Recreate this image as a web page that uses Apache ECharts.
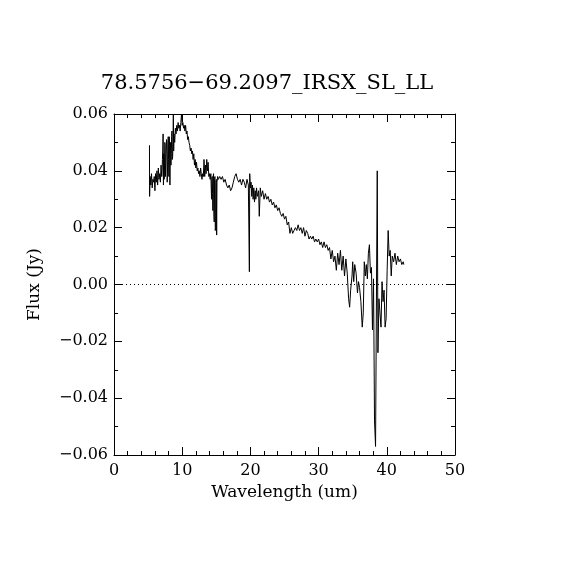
<!DOCTYPE html>
<html>
<head>
<meta charset="utf-8">
<script src="https://cdn.jsdelivr.net/npm/echarts@6/dist/echarts.min.js"></script>
<style>html,body{margin:0;padding:0;background:#fff}#c{width:570px;height:570px}</style>
</head>
<body>
<div id="c"></div>
<script>
const titleText = '78.5756\u221269.2097_IRSX_SL_LL';
const xName = 'Wavelength (um)';
const yName = 'Flux (Jy)';
// SL module
const wavelengthSL = [
5.20,5.22,5.30,5.40,5.50,5.60,5.70,5.80,5.90,6.00,6.10,6.20,6.30,6.40,6.50,6.60,6.70,6.80,6.90,7.00,
7.05,7.10,7.15,7.20,7.25,7.30,7.35,7.40,7.45,7.50,7.55,7.60,7.65,7.70,7.75,7.80,7.85,7.90,7.95,8.00,
8.05,8.10,8.15,8.20,8.25,8.30,8.35,8.40,8.45,8.50,8.55,8.60,8.65,8.70,8.75,8.80,
8.90,9.00,9.10,9.20,9.30,9.40,9.50,9.60,9.70,9.80,9.90,10.00,10.10,10.20,10.30,10.40,10.50,10.60,10.70,10.80,
10.90,11.00,11.10,11.20,11.30,11.40,11.50,11.60,11.70,11.80,11.90,12.00,12.10,12.20,12.30,12.40,12.50,12.60,12.70,12.80,
12.90,13.00,13.10,13.20,13.30,13.40,13.50,13.60,13.70,13.80,13.90,14.00,14.10,14.20
];
const fluxSL = [
0.049,0.031,0.038,0.035,0.039,0.034,0.037,0.036,0.038,0.033,0.039,0.036,0.040,0.035,0.041,0.037,0.039,0.036,0.042,0.038,
0.040,0.044,0.047,0.053,0.035,0.046,0.037,0.040,0.050,0.049,0.038,0.043,0.047,0.051,0.050,0.036,0.041,0.048,0.052,0.044,
0.038,0.052,0.049,0.035,0.047,0.050,0.042,0.046,0.052,0.054,0.044,0.045,0.050,0.060,0.047,0.053,
0.050,0.055,0.053,0.056,0.054,0.057,0.055,0.056,0.054,0.057,0.060,0.056,0.057,0.055,0.056,0.054,0.056,0.053,0.054,0.051,
0.052,0.050,0.049,0.047,0.048,0.046,0.047,0.044,0.046,0.042,0.044,0.041,0.043,0.040,0.041,0.039,0.040,0.038,0.041,0.039,
0.037,0.039,0.038,0.044,0.038,0.042,0.039,0.044,0.040,0.043,0.038,0.039,0.037,0.039
];
// LL module
const wavelengthLL = [
14.30,14.35,14.40,14.45,14.50,14.55,14.60,14.65,14.70,14.75,14.80,14.85,14.90,14.95,15.00,15.05,15.10,
15.20,15.30,15.50,15.70,15.90,16.10,16.30,16.50,16.70,16.90,17.10,17.30,17.50,17.70,17.90,18.10,
18.30,18.50,18.70,18.90,19.10,19.30,19.50,19.70,19.85,19.90,20.00,20.10,20.20,20.30,20.40,20.50,20.60,20.70,20.80,20.90,
21.00,21.20,21.30,21.45,21.60,21.80,22.00,22.20,22.40,22.60,22.80,23.00,23.20,23.40,23.60,23.80,24.00,24.20,24.40,24.60,
24.80,25.00,25.20,25.40,25.60,25.80,26.00,26.20,26.40,26.60,26.80,27.00,27.20,27.40,27.60,27.80,28.00,28.20,28.40,28.60,
28.80,29.00,29.20,29.40,29.60,29.80,30.00,30.20,30.40,30.60,30.80,31.00,31.20,31.40,31.60,31.80,32.00,32.20,32.40,32.60,
32.80,33.00,33.20,33.40,33.60,33.80,34.00,34.20,34.40,34.55,34.70,34.90,35.00,35.15,35.30,35.50,35.70,35.85,36.00,36.20,
36.40,36.55,36.70,36.85,37.00,37.15,37.30,37.45,37.60,37.75,37.90,38.05,38.20,38.35,38.50,38.60,38.70,38.85,39.00,39.15,
39.30,39.45,39.60,39.75,39.90,40.05,40.20,40.35,40.50,40.65,40.80,41.00,41.20,41.40,41.60,41.80,42.00,42.20,42.40,42.50
];
const fluxLL = [
0.030,0.037,0.038,0.032,0.026,0.038,0.039,0.024,0.022,0.037,0.038,0.019,0.020,0.036,0.037,0.0174,0.036,
0.038,0.037,0.038,0.037,0.038,0.036,0.037,0.035,0.034,0.035,0.033,0.034,0.036,0.038,0.039,0.037,
0.036,0.037,0.035,0.037,0.036,0.034,0.037,0.035,0.0045,0.039,0.034,0.036,0.031,0.035,0.030,0.034,0.029,0.033,0.030,0.034,
0.031,0.033,0.024,0.034,0.031,0.033,0.030,0.032,0.030,0.031,0.029,0.030,0.028,0.029,0.027,0.028,0.026,0.027,0.025,0.024,
0.025,0.023,0.024,0.021,0.022,0.018,0.020,0.018,0.019,0.020,0.019,0.021,0.019,0.020,0.018,0.020,0.017,0.019,0.018,0.016,
0.017,0.016,0.017,0.015,0.016,0.015,0.016,0.014,0.015,0.013,0.015,0.013,0.014,0.012,0.013,0.009,0.012,0.008,0.010,0.005,
0.011,0.007,0.012,0.005,0.010,0.003,0.009,0.004,-0.005,-0.008,-0.002,0.003,0.008,0.001,0.007,0.004,-0.003,0.001,-0.001,-0.006,
-0.015,-0.010,0.008,0.003,0.007,0.002,0.011,0.014,0.004,0.006,-0.016,0.002,-0.048,-0.057,0.003,0.040,-0.024,-0.005,-0.010,-0.015,
0.001,-0.006,-0.002,-0.015,-0.012,0.005,0.019,0.010,0.012,0.003,0.010,0.008,0.011,0.007,0.010,0.008,0.009,0.007,0.008,0.007
];
const xTicks = [0,10,20,30,40,50];
const yTicks = [-0.06,-0.04,-0.02,0.00,0.02,0.04,0.06];

const font = 'DejaVu Serif';
const chart = echarts.init(document.getElementById('c'));
const wavelength = wavelengthSL.concat(wavelengthLL);
const flux = fluxSL.concat(fluxLL);
const pts = wavelength.map((w,i)=>[w,flux[i]]);
const fmtY = v => (v<0?'\u2212':'') + Math.abs(v).toFixed(2);
const baseX = {
  type:'value', min:xTicks[0], max:xTicks[xTicks.length-1], interval:10,
  splitLine:{show:false},
  axisLine:{show:true,onZero:false,lineStyle:{color:'#000',width:1}},
  axisTick:{show:true,inside:true,length:8,lineStyle:{color:'#000'}},
  minorTick:{show:true,splitNumber:5,length:4,lineStyle:{color:'#000'}}
};
const baseY = {
  type:'value', min:yTicks[0], max:yTicks[yTicks.length-1], interval:0.02,
  splitLine:{show:false},
  axisLine:{show:true,onZero:false,lineStyle:{color:'#000',width:1}},
  axisTick:{show:true,inside:true,length:8,lineStyle:{color:'#000'}},
  minorTick:{show:true,splitNumber:2,length:4,lineStyle:{color:'#000'}}
};
chart.setOption({
  animation:false,
  backgroundColor:'#fff',
  title:{text:titleText,left:262,top:68,textAlign:'center',
    textStyle:{fontFamily:font,fontSize:21,fontWeight:'normal',color:'#000'}},
  grid:{left:114,top:114,width:341,height:341},
  xAxis:[
    Object.assign({},baseX,{position:'bottom',name:xName,nameLocation:'middle',nameGap:26,
      nameTextStyle:{fontFamily:font,fontSize:17,color:'#000'},
      axisLabel:{fontFamily:font,fontSize:16,color:'#000',margin:8}}),
    Object.assign({},baseX,{position:'top',axisLabel:{show:false}})
  ],
  yAxis:[
    Object.assign({},baseY,{position:'left',name:yName,nameLocation:'middle',nameGap:71,
      nameTextStyle:{fontFamily:font,fontSize:17,color:'#000'},
      axisLabel:{fontFamily:font,fontSize:16,color:'#000',margin:6,formatter:fmtY}}),
    Object.assign({},baseY,{position:'right',axisLabel:{show:false}})
  ],
  series:[{
    type:'line', data:pts, xAxisIndex:0, yAxisIndex:0,
    showSymbol:false, symbol:'none',
    lineStyle:{color:'#000',width:1},
    markLine:{silent:true,symbol:'none',label:{show:false},
      lineStyle:{color:'#000',width:1,type:[1,3]},
      data:[{yAxis:0}]}
  }]
});
</script>
</body>
</html>
